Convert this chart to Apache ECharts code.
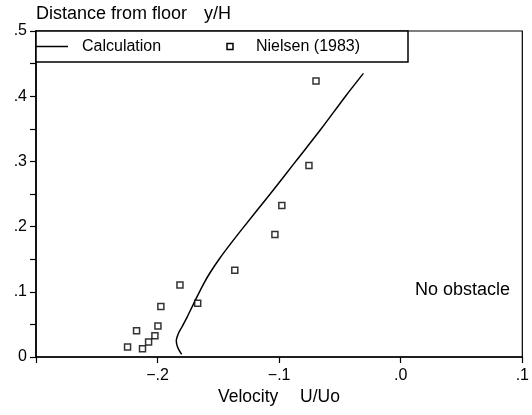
<!DOCTYPE html>
<html><head><meta charset="utf-8">
<script src="https://cdn.jsdelivr.net/npm/echarts@6/dist/echarts.min.js"></script>
<style>html,body{margin:0;padding:0;background:#fff}#c{width:532px;height:415px}</style>
</head><body><div id="c"></div>
<script>
// Calculation curve (U/Uo, y/H)
const curveX = [-0.1802, -0.1835, -0.1846, -0.1829, -0.1800, -0.1755, -0.1695, -0.1628, -0.1566, -0.1494, -0.1394, -0.1289, -0.1074, -0.0864, -0.0654, -0.0454, -0.0307];
const curveY = [0.0040, 0.0150, 0.0250, 0.0360, 0.0460, 0.0620, 0.0850, 0.1100, 0.1300, 0.1500, 0.1750, 0.2000, 0.2500, 0.3000, 0.3500, 0.4000, 0.4350];
// Nielsen (1983) measurements
const nielsenX = [-0.0697, -0.0755, -0.0978, -0.1035, -0.1365, -0.1670, -0.1816, -0.1973, -0.1997, -0.2022, -0.2074, -0.2124, -0.2173, -0.2247];
const nielsenY = [0.4235, 0.2936, 0.2324, 0.1880, 0.1330, 0.0826, 0.1106, 0.0775, 0.0474, 0.0326, 0.0229, 0.0127, 0.0402, 0.0153];
// Tick labels
const xTickLabels = ['', '\u2212.2', '\u2212.1', '.0', '.1'];   // -0.3 .. 0.1
const yTickLabels = ['0', '.1', '.2', '.3', '.4', '.5'];       // 0 .. 0.5
const seriesNames = ['Calculation', 'Nielsen (1983)'];

const FONT = "'Liberation Sans', Arial, sans-serif";
const chart = echarts.init(document.getElementById('c'), null, {renderer: 'canvas'});

const curve = curveX.map((x, i) => [x, curveY[i]]);
const pts = nielsenX.map((x, i) => [x, nielsenY[i]]);

chart.setOption({
  animation: false,
  backgroundColor: '#fff',
  grid: {left: 36, right: 7, top: 31, bottom: 58, show: true, borderColor: '#000', borderWidth: 1.2, backgroundColor: 'transparent'},
  xAxis: {
    type: 'value', min: -0.3, max: 0.1, interval: 0.1,
    axisLine: {onZero: false, lineStyle: {color: '#000', width: 1.6}},
    axisTick: {show: true, length: 6, lineStyle: {color: '#000', width: 1.2}},
    splitLine: {show: false},
    axisLabel: {
      color: '#000', fontSize: 16, fontFamily: FONT, margin: 11,
      formatter: v => xTickLabels[Math.round((v + 0.3) / 0.1)] || ''
    }
  },
  yAxis: {
    type: 'value', min: 0, max: 0.5, interval: 0.1,
    axisLine: {onZero: false, lineStyle: {color: '#000', width: 1.6}},
    axisTick: {show: true, length: 6, lineStyle: {color: '#000', width: 1.2}},
    minorTick: {show: true, splitNumber: 2, length: 6, lineStyle: {color: '#000', width: 1.2}},
    splitLine: {show: false},
    minorSplitLine: {show: false},
    axisLabel: {
      color: '#000', fontSize: 16, fontFamily: FONT, margin: 9,
      formatter: v => yTickLabels[Math.round(v / 0.1)] || ''
    }
  },
  series: [
    {
      name: seriesNames[0], type: 'line', data: curve, smooth: 0.3,
      showSymbol: false, lineStyle: {color: '#000', width: 1.5}, z: 3
    },
    {
      name: seriesNames[1], type: 'scatter', data: pts, symbol: 'rect', symbolSize: 6,
      itemStyle: {color: '#fff', borderColor: '#000', borderWidth: 1.5}, z: 4
    }
  ],
  graphic: [
    {type: 'text', left: 36, top: 5, style: {text: 'Distance from floor', font: '18px ' + FONT, fill: '#000'}},
    {type: 'text', left: 204, top: 5, style: {text: 'y/H', font: '18px ' + FONT, fill: '#000'}},
    {type: 'rect', shape: {x: 36, y: 31, width: 372, height: 31}, style: {fill: '#fff', stroke: '#000', lineWidth: 1.5}, z: 10},
    {type: 'line', shape: {x1: 36, y1: 46.5, x2: 68, y2: 46.5}, style: {stroke: '#000', lineWidth: 1.5}, z: 11},
    {type: 'rect', shape: {x: 227, y: 43.5, width: 6, height: 6}, style: {fill: '#fff', stroke: '#000', lineWidth: 1.5}, z: 11},
    {type: 'text', x: 82, y: 46.5, style: {text: seriesNames[0], font: '16px ' + FONT, fill: '#000', verticalAlign: 'middle'}, z: 11},
    {type: 'text', x: 256, y: 46.5, style: {text: seriesNames[1], font: '16px ' + FONT, fill: '#000', verticalAlign: 'middle'}, z: 11},
    {type: 'text', left: 218, top: 388, style: {text: 'Velocity', font: '17.5px ' + FONT, fill: '#000'}},
    {type: 'text', left: 300, top: 388, style: {text: 'U/Uo', font: '17.5px ' + FONT, fill: '#000'}},
    {type: 'text', left: 415, top: 281, style: {text: 'No obstacle', font: '18px ' + FONT, fill: '#000'}}
  ]
});
</script>
</body></html>
